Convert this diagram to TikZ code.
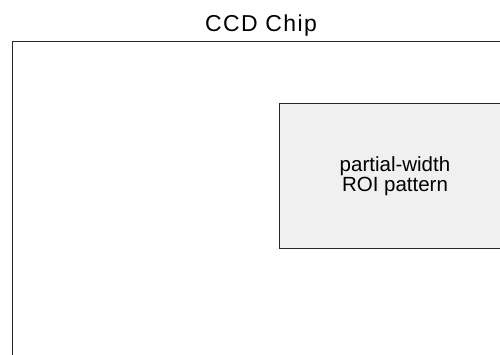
\documentclass[tikz,border=0pt]{standalone}
\usepackage{fontspec}
\setmainfont{Liberation Sans}
\usepackage{tikz}
\usetikzlibrary{positioning}

\begin{document}
\begin{tikzpicture}[
  x=1pt, y=-1pt,
  chip/.style={draw=black!85, line width=1pt, anchor=north west,
    minimum width=498pt, minimum height=330pt, inner sep=0pt},
  roi/.style={draw=black!85, line width=1pt, fill=black!6, anchor=north west,
    align=center, minimum width=232pt, minimum height=145pt, inner sep=0pt,
    font=\fontsize{20.5}{16}\selectfont},
  title/.style={font=\fontsize{23}{26}\selectfont\addfontfeature{LetterSpace=6}}]
\useasboundingbox (0,0) rectangle (500,354);
\node[chip] (chip) at (11.5,40.5) {};
\node[title, above=1pt of chip.north] (chiplabel) {CCD Chip};
\node[roi] (roiarea) at (278.5,103) {partial-width\\ROI pattern};
\end{tikzpicture}
\end{document}
